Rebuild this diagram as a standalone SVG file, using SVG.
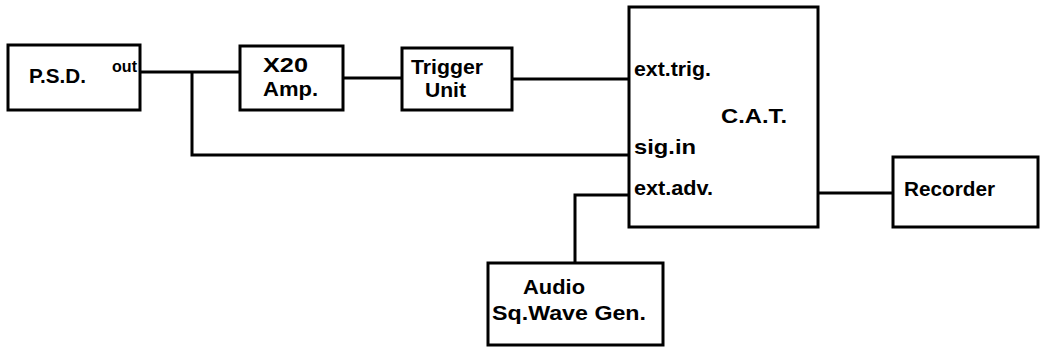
<svg xmlns="http://www.w3.org/2000/svg" width="1046" height="349" viewBox="0 0 1046 349">
<style>
rect{fill:#fff;stroke:#000;stroke-width:3}
.c line,.c polyline{stroke:#000;stroke-width:3;fill:none}
text{font-family:"Liberation Sans",Arial,sans-serif;font-weight:bold;font-size:21px;fill:#000}
.s{font-size:17px}
</style>
<rect x="0" y="0" width="1046" height="349" style="stroke:none"/>
<g class="c">
<line x1="140" y1="72" x2="240" y2="72"/>
<polyline points="192,72 192,155 629,155"/>
<line x1="343" y1="78" x2="402" y2="78"/>
<line x1="512" y1="79" x2="629" y2="79"/>
<polyline points="575,262 575,195 629,195"/>
<line x1="818" y1="193" x2="893" y2="193"/>
</g>
<g id="psd"><rect x="8" y="45" width="132" height="65"/><text x="29" y="83" textLength="57" lengthAdjust="spacingAndGlyphs">P.S.D.</text><text class="s" x="112" y="72" textLength="25" lengthAdjust="spacingAndGlyphs">out</text></g>
<g id="amp"><rect x="240" y="46" width="103" height="64"/><text x="263" y="72" textLength="45" lengthAdjust="spacingAndGlyphs">X20</text><text x="263" y="96" textLength="55" lengthAdjust="spacingAndGlyphs">Amp.</text></g>
<g id="trigger"><rect x="402" y="48" width="110" height="62"/><text x="411" y="74" textLength="72" lengthAdjust="spacingAndGlyphs">Trigger</text><text x="425" y="97" textLength="41" lengthAdjust="spacingAndGlyphs">Unit</text></g>
<g id="cat"><rect x="629" y="7" width="189" height="220"/><text x="634" y="76" textLength="77" lengthAdjust="spacingAndGlyphs">ext.trig.</text><text x="721" y="123" textLength="66" lengthAdjust="spacingAndGlyphs">C.A.T.</text><text x="634" y="154" textLength="62" lengthAdjust="spacingAndGlyphs">sig.in</text><text x="634" y="195" textLength="79" lengthAdjust="spacingAndGlyphs">ext.adv.</text></g>
<g id="recorder"><rect x="893" y="157" width="145" height="70"/><text x="904" y="196" textLength="91" lengthAdjust="spacingAndGlyphs">Recorder</text></g>
<g id="audio"><rect x="488" y="263" width="175" height="82"/><text x="523" y="294" textLength="62" lengthAdjust="spacingAndGlyphs">Audio</text><text x="492" y="320" textLength="154" lengthAdjust="spacingAndGlyphs">Sq.Wave Gen.</text></g>
</svg>
